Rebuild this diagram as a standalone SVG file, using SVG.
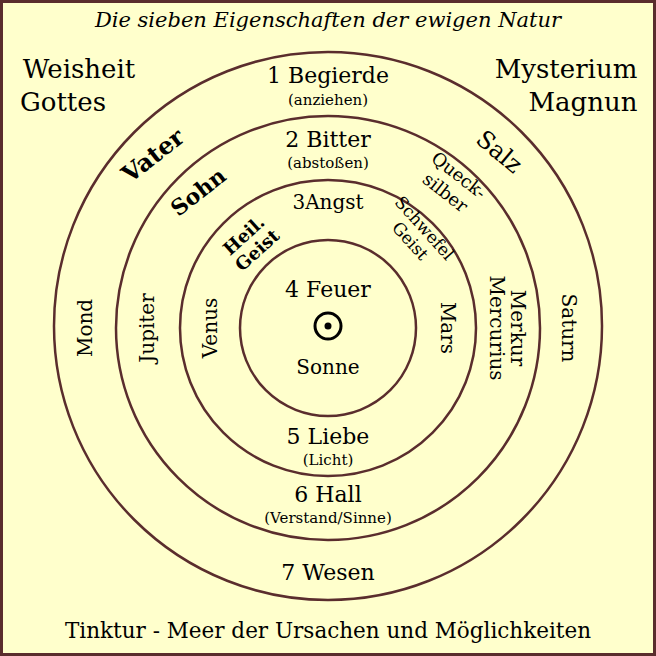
<svg xmlns="http://www.w3.org/2000/svg" width="656" height="656" viewBox="0 0 656 656">
<style>
text{font-family:"DejaVu Serif","Liberation Serif",serif;fill:#000;text-anchor:middle}
.c{fill:none;stroke:#5a2d2d;stroke-width:2.5}
.b{font-weight:bold}
</style>
<rect x="1.5" y="1.5" width="653" height="653" fill="#ffffcc" stroke="#5a2d2d" stroke-width="3"/>
<g id="rings">
<circle class="c" cx="328" cy="326" r="274"/>
<circle class="c" cx="328" cy="328" r="212"/>
<circle class="c" cx="328" cy="328" r="148"/>
<circle class="c" cx="328" cy="328" r="88"/>
</g>
<g id="labels">
<text x="328" y="27" font-size="21" font-style="italic">Die sieben Eigenschaften der ewigen Natur</text>
<text x="79" y="78" font-size="26">Weisheit</text>
<text x="63" y="111" font-size="26">Gottes</text>
<text x="566" y="78" font-size="26">Mysterium</text>
<text x="583" y="111" font-size="26">Magnun</text>
<text x="328" y="638" font-size="21.5">Tinktur - Meer der Ursachen und Möglichkeiten</text>
<text x="328" y="83" font-size="22">1 Begierde</text>
<text x="328" y="105" font-size="15">(anziehen)</text>
<text x="328" y="147" font-size="22">2 Bitter</text>
<text x="328" y="168" font-size="15">(abstoßen)</text>
<text x="328" y="209" font-size="20">3Angst</text>
<text x="328" y="297" font-size="22">4 Feuer</text>
<text x="328" y="374" font-size="20">Sonne</text>
<text x="328" y="444" font-size="22">5 Liebe</text>
<text x="328" y="465" font-size="15">(Licht)</text>
<text x="328" y="502" font-size="22">6 Hall</text>
<text x="328" y="523" font-size="15">(Verstand/Sinne)</text>
<text x="328" y="580" font-size="22">7 Wesen</text>
<text class="b" font-size="24" transform="translate(158,162) rotate(-38)">Vater</text>
<text font-size="24" transform="translate(494,158) rotate(40)">Salz</text>
<text class="b" font-size="22" transform="translate(203,198) rotate(-38)">Sohn</text>
<text font-size="18" transform="translate(455,180) rotate(38)"><tspan x="0" y="0">Queck-</tspan><tspan x="0" y="22">silber</tspan></text>
<text class="b" font-size="18" transform="translate(248,240) rotate(-42)"><tspan x="0" y="0">Heil.</tspan><tspan x="0" y="20">Geist</tspan></text>
<text font-size="17" transform="translate(420,232) rotate(48)"><tspan x="0" y="0">Schwefel</tspan><tspan x="0" y="19">Geist</tspan></text>
<text font-size="20" transform="translate(92,328) rotate(-90)">Mond</text>
<text font-size="20" transform="translate(154,328) rotate(-90)">Jupiter</text>
<text font-size="20" transform="translate(217,328) rotate(-90)">Venus</text>
<text font-size="20" transform="translate(441,328) rotate(90)">Mars</text>
<text font-size="20" transform="translate(503,328) rotate(90)"><tspan x="0" y="-8">Merkur</tspan><tspan x="0" y="13">Mercurius</tspan></text>
<text font-size="20" transform="translate(562,328) rotate(90)">Saturn</text>
</g>
<g id="sun">
<circle cx="328" cy="326" r="13" fill="none" stroke="#000" stroke-width="3"/>
<circle cx="328" cy="326" r="3.5" fill="#000"/>
</g>
</svg>
